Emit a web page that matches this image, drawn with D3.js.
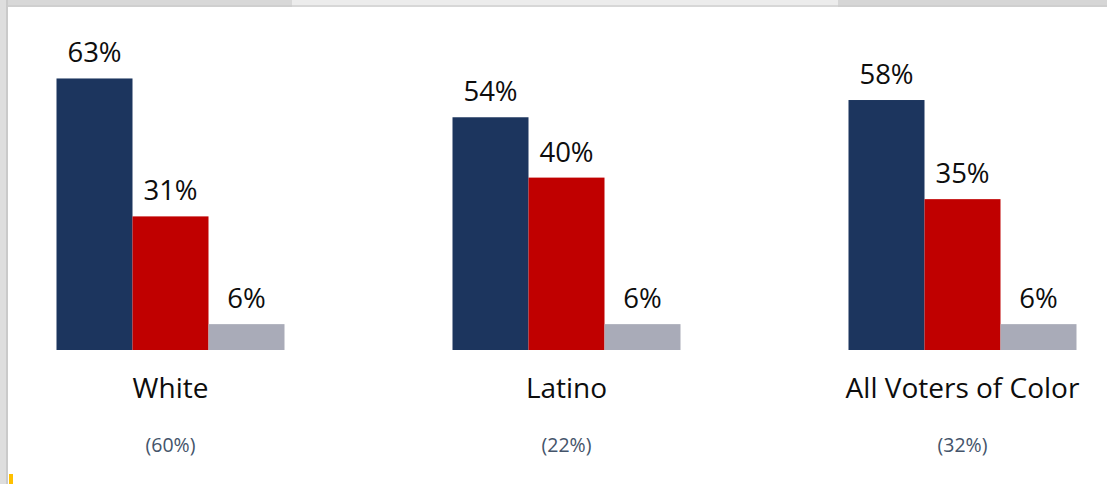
<!DOCTYPE html>
<html>
<head>
<meta charset="utf-8">
<script src="https://cdn.jsdelivr.net/npm/d3@7"></script>
<style>
  html, body { margin: 0; padding: 0; background: #ffffff; }
  svg { display: block; }
</style>
</head>
<body>
<svg id="chart" width="1107" height="484"></svg>
<script>
// ---- Data ----
const categories = ["White", "Latino", "All Voters of Color"];
const shares = ["(60%)", "(22%)", "(32%)"];
const series = ["s1", "s2", "s3"];
const seriesColors = ["#1c355e", "#c00000", "#a9abb8"];
const values1 = [63, 54, 58];
const values2 = [31, 40, 35];
const values3 = [6, 6, 6];
const allValues = [values1, values2, values3];

const W = 1107, H = 484;
const svg = d3.select("#chart");

// ---- Frame decoration (screenshot edges) ----
const frame = svg.append("g");
frame.append("rect").attr("x", 0).attr("y", 0).attr("width", 292).attr("height", 7).attr("fill", "#d8d8d8");
frame.append("rect").attr("x", 292).attr("y", 0).attr("width", 546).attr("height", 7).attr("fill", "#ececec");
frame.append("rect").attr("x", 838).attr("y", 0).attr("width", 269).attr("height", 7).attr("fill", "#d6d6d6");
frame.append("rect").attr("x", 0).attr("y", 5).attr("width", 1107).attr("height", 2).attr("fill", "#c9c9c9").attr("opacity", 0.6);
frame.append("rect").attr("x", 0).attr("y", 0).attr("width", 8).attr("height", H).attr("fill", "#dedede");
frame.append("rect").attr("x", 6).attr("y", 0).attr("width", 2).attr("height", H).attr("fill", "#cacaca");
frame.append("rect").attr("x", 9).attr("y", 474).attr("width", 4).attr("height", 10).attr("fill", "#ffc000");

// ---- Scales ----
const baseline = 350;
const y = d3.scaleLinear().domain([0, 100]).range([baseline, baseline - 431]);
const xGroup = d3.scalePoint().domain(categories).range([170.5, 962.5]);
const xInner = d3.scaleBand().domain(series).range([-114, 114]).padding(0);

const font = "'Open Sans', 'DejaVu Sans', sans-serif";

const groups = svg.append("g").selectAll("g.grp")
  .data(categories)
  .join("g")
  .attr("class", "grp")
  .attr("transform", d => `translate(${xGroup(d)},0)`);

groups.each(function(cat, ci) {
  const g = d3.select(this);
  const rows = series.map((s, si) => ({ s, si, v: allValues[si][ci] }));
  g.selectAll("rect.bar").data(rows).join("rect")
    .attr("class", "bar")
    .attr("x", d => xInner(d.s))
    .attr("width", xInner.bandwidth())
    .attr("y", d => y(d.v))
    .attr("height", d => baseline - y(d.v))
    .attr("fill", d => seriesColors[d.si]);
  g.selectAll("text.val").data(rows).join("text")
    .attr("class", "val")
    .attr("x", d => xInner(d.s) + xInner.bandwidth() / 2)
    .attr("y", d => y(d.v) - 16)
    .attr("text-anchor", "middle")
    .attr("font-family", font)
    .attr("font-size", 27.5)
    .attr("fill", "#0d0d0d")
    .text(d => d.v + "%");
  g.append("text")
    .attr("x", 0)
    .attr("y", 398)
    .attr("text-anchor", "middle")
    .attr("font-family", font)
    .attr("font-size", 28)
    .attr("fill", "#0d0d0d")
    .text(cat);
  g.append("text")
    .attr("x", 0)
    .attr("y", 452)
    .attr("text-anchor", "middle")
    .attr("font-family", font)
    .attr("font-size", 19.5)
    .attr("fill", "#44546a")
    .text(shares[ci]);
});
</script>
</body>
</html>
